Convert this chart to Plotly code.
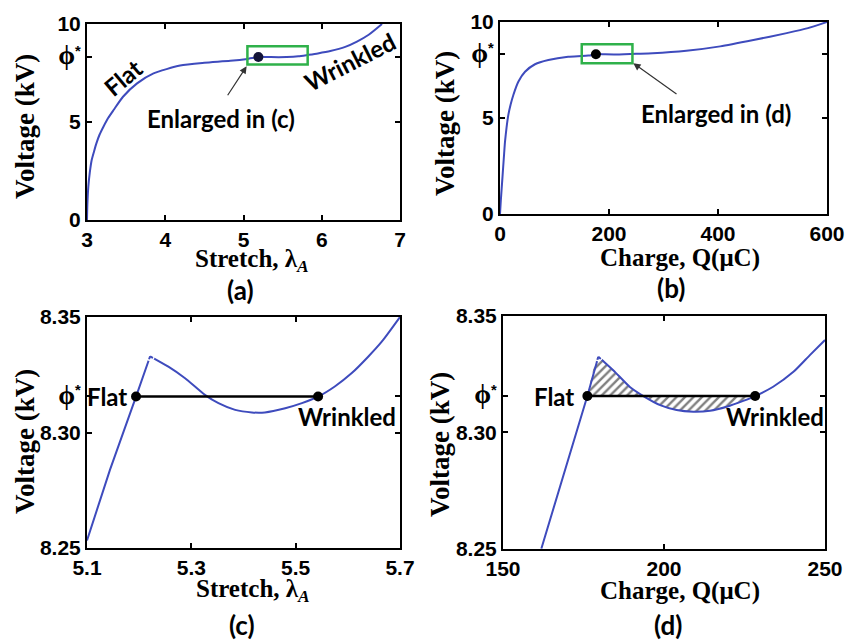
import plotly.graph_objects as go

# ---------------- data ----------------
phi_star = 8.3156

# (a) voltage vs stretch
a_stretch = [3.0, 3.005, 3.017, 3.035, 3.06, 3.09, 3.12, 3.16, 3.21, 3.27, 3.34, 3.46,
             3.64, 3.85, 4.19, 4.5, 4.83, 5.05, 5.19, 5.22, 5.35, 5.45, 5.55, 5.7,
             5.82, 5.95, 6.11, 6.3, 6.45, 6.6, 6.77]
a_voltage = [0.0, 0.8, 1.7, 2.4, 3.06, 3.5, 3.91, 4.35, 4.76, 5.2, 5.61, 6.29,
             6.97, 7.48, 7.88, 8.02, 8.12, 8.22, 8.315, 8.333, 8.312, 8.309, 8.313, 8.35,
             8.42, 8.5, 8.62, 8.83, 9.1, 9.45, 10.0]

# (b) voltage vs charge
b_charge = [0, 1.5, 3.1, 4.6, 6.1, 7.6, 9.2, 12, 15.3, 19.5, 24.5, 33.6, 45.9, 64.2,
            88.7, 125, 150, 162, 176, 180, 193, 209, 228, 250, 280, 342, 404, 465,
            526, 565, 600]
b_voltage = [0.0, 0.7, 1.34, 1.95, 2.55, 3.15, 3.77, 4.5, 5.16, 5.7, 6.2, 6.89, 7.41,
             7.80, 8.02, 8.19, 8.225, 8.25, 8.316, 8.333, 8.316, 8.309, 8.316, 8.34,
             8.37, 8.5, 8.73, 9.06, 9.42, 9.68, 10.0]

# (c) enlarged: voltage vs stretch
c_stretch = [5.1, 5.144, 5.194, 5.221, 5.256, 5.288, 5.326, 5.352, 5.384, 5.416, 5.441,
             5.48, 5.512, 5.543, 5.575, 5.607, 5.639, 5.665, 5.7]
c_voltage = [8.2533, 8.2838, 8.3155, 8.333, 8.3285, 8.3235, 8.3163, 8.3127, 8.3098,
             8.3087, 8.3087, 8.3105, 8.3127, 8.3155, 8.3199, 8.3256, 8.3328, 8.3393, 8.35]
c_flat, c_wrinkled, c_peak = 5.194, 5.543, 3  # peak is the index into c arrays

# (d) enlarged: voltage vs charge
d_charge = [161.9, 176.2, 179.6, 184.3, 189.4, 193.6, 198.8, 203.9, 209.1, 214.3,
            219.5, 224.6, 228.3, 233.9, 240.2, 245.3, 250]
d_voltage = [8.25, 8.3156, 8.3325, 8.3266, 8.3195, 8.3156, 8.3117, 8.3096, 8.3089,
             8.3093, 8.311, 8.3135, 8.3156, 8.3196, 8.326, 8.3332, 8.3397]
d_flat, d_wrinkled, d_peak = 176.2, 228.3, 2
d_hatch_start, d_hatch_end = 1, 12

# tick labels
a_xticks = [3, 4, 5, 6, 7]
a_yticks = [0, 5, phi_star, 10]
b_xticks = [0, 200, 400, 600]
b_yticks = [0, 5, phi_star, 10]
c_xticks = [5.1, 5.3, 5.5, 5.7]
c_yticks = [8.25, 8.30, phi_star, 8.35]
d_xticks = [150, 200, 250]
d_yticks = [8.25, 8.30, phi_star, 8.35]
PHI = '<span style="font-family:Liberation Serif;font-size:27px">ϕ</span><sup>*</sup>'

# ---------------- styling ----------------
W, H = 846, 640
BLUE = "#3e4bbd"
GREEN = "#2fb14a"
TICKFONT = dict(family="Liberation Sans", size=21, color="black", weight="bold")
SERIF = dict(family="Liberation Serif", size=25, color="black", weight="bold")
SERIF_Y = dict(family="Liberation Serif", size=27, color="black", weight="bold")
CAL = dict(family="Lato", size=24, color="black", weight="bold")


def fx(px):
    return px / W


def fy(py):
    return 1 - py / H


def axis(dom, rng, tickvals, ticktext, anchor):
    return dict(domain=dom, range=rng, tickvals=tickvals, ticktext=ticktext,
                showline=True, linecolor="black", linewidth=2, mirror="ticks",
                ticks="inside", ticklen=5, tickwidth=1.5, tickcolor="black",
                showgrid=False, zeroline=False, tickfont=TICKFONT, anchor=anchor,
                automargin=False)


def fmt(v, d):
    return f"{v:.{d}f}"


SPL = dict(shape="spline", smoothing=0.6)

fig = go.Figure()

# (a)
fig.add_trace(go.Scatter(x=a_stretch, y=a_voltage, mode="lines",
                         line=dict(color=BLUE, width=2, **SPL), xaxis="x", yaxis="y"))
fig.add_trace(go.Scatter(x=[a_stretch[18]], y=[a_voltage[18]], mode="markers",
                         marker=dict(color="#141438", size=10), xaxis="x", yaxis="y"))
# (b)
fig.add_trace(go.Scatter(x=b_charge, y=b_voltage, mode="lines",
                         line=dict(color=BLUE, width=2, **SPL), xaxis="x2", yaxis="y2"))
fig.add_trace(go.Scatter(x=[b_charge[18]], y=[b_voltage[18]], mode="markers",
                         marker=dict(color="black", size=10), xaxis="x2", yaxis="y2"))
# (c)
fig.add_trace(go.Scatter(x=c_stretch[:c_peak + 1], y=c_voltage[:c_peak + 1], mode="lines",
                         line=dict(color=BLUE, width=2), xaxis="x3", yaxis="y3"))
fig.add_trace(go.Scatter(x=c_stretch[c_peak:], y=c_voltage[c_peak:], mode="lines",
                         line=dict(color=BLUE, width=2, **SPL), xaxis="x3", yaxis="y3"))
fig.add_trace(go.Scatter(x=[c_stretch[c_peak]], y=[c_voltage[c_peak]], mode="markers",
                         marker=dict(color="white", size=8, symbol="circle-open",
                                     line=dict(color=BLUE, width=1.5)),
                         xaxis="x3", yaxis="y3"))
fig.add_trace(go.Scatter(x=[c_flat, c_wrinkled], y=[phi_star, phi_star],
                         mode="lines+markers", line=dict(color="black", width=2.5),
                         marker=dict(color="black", size=10), xaxis="x3", yaxis="y3"))
# (d)
fig.add_trace(go.Scatter(x=d_charge[d_hatch_start:d_hatch_end + 1],
                         y=d_voltage[d_hatch_start:d_hatch_end + 1],
                         mode="lines", line=dict(width=0, **SPL), fill="toself",
                         fillcolor="rgba(0,0,0,0)",
                         fillpattern=dict(shape="/", size=6, solidity=0.4,
                                          fgcolor="black", bgcolor="white"),
                         xaxis="x4", yaxis="y4"))
fig.add_trace(go.Scatter(x=d_charge[:d_peak + 1], y=d_voltage[:d_peak + 1], mode="lines",
                         line=dict(color=BLUE, width=2), xaxis="x4", yaxis="y4"))
fig.add_trace(go.Scatter(x=d_charge[d_peak:], y=d_voltage[d_peak:], mode="lines",
                         line=dict(color=BLUE, width=2, **SPL), xaxis="x4", yaxis="y4"))
fig.add_trace(go.Scatter(x=[d_charge[d_peak]], y=[d_voltage[d_peak]], mode="markers",
                         marker=dict(color="white", size=8, symbol="circle-open",
                                     line=dict(color=BLUE, width=1.5)),
                         xaxis="x4", yaxis="y4"))
fig.add_trace(go.Scatter(x=[d_flat, d_wrinkled], y=[phi_star, phi_star],
                         mode="lines+markers", line=dict(color="black", width=2.5),
                         marker=dict(color="black", size=10), xaxis="x4", yaxis="y4"))

layout = dict(
    width=W, height=H, autosize=False, showlegend=False,
    margin=dict(l=0, r=0, t=0, b=0),
    paper_bgcolor="white", plot_bgcolor="white",
    xaxis=axis([fx(87), fx(400)], [3, 7], a_xticks, [str(v) for v in a_xticks], "y"),
    yaxis=axis([fy(220), fy(24)], [0, 10], a_yticks, ["0", "5", PHI, "10"], "x"),
    xaxis2=axis([fx(500), fx(827)], [0, 600], b_xticks, [str(v) for v in b_xticks], "y2"),
    yaxis2=axis([fy(214), fy(22)], [0, 10], b_yticks, ["0", "5", PHI, "10"], "x2"),
    xaxis3=axis([fx(87), fx(400)], [5.1, 5.7], c_xticks, [fmt(v, 1) for v in c_xticks], "y3"),
    yaxis3=axis([fy(548), fy(317)], [8.25, 8.35], c_yticks,
                ["8.25", "8.30", PHI, "8.35"], "x3"),
    xaxis4=axis([fx(503), fx(825)], [150, 250], d_xticks, [str(v) for v in d_xticks], "y4"),
    yaxis4=axis([fy(548.7), fy(316)], [8.25, 8.35], d_yticks,
                ["8.25", "8.30", PHI, "8.35"], "x4"),
)
fig.update_layout(**layout)

# green boxes
fig.add_shape(type="rect", xref="x", yref="y", x0=5.05, x1=5.82, y0=7.93, y1=8.86,
              line=dict(color=GREEN, width=2.5))
fig.add_shape(type="rect", xref="x2", yref="y2", x0=150, x1=243, y0=7.85, y1=8.84,
              line=dict(color=GREEN, width=2.5))

ann = []


def paper_text(text, px, py, font, angle=0):
    ann.append(dict(text=text, x=fx(px), y=fy(py), xref="paper", yref="paper",
                    showarrow=False, font=font, textangle=angle,
                    xanchor="center", yanchor="middle"))


# axis titles
for (px, py) in [(25, 127), (445, 124), (25, 442), (440, 445)]:
    paper_text("Voltage (kV)", px, py, SERIF_Y, -90)
paper_text("Stretch, λ<sub><i>A</i></sub>", 252, 260, SERIF)
paper_text("Charge, Q(μC)", 680, 258, SERIF)
paper_text("Stretch, λ<sub><i>A</i></sub>", 253, 590, SERIF)
paper_text("Charge, Q(μC)", 680, 591, SERIF)
# panel labels
for lbl, px, py in [("(a)", 240, 290), ("(b)", 671, 288), ("(c)", 242, 625), ("(d)", 668, 625)]:
    paper_text(lbl, px, py, dict(family="Lato", size=26, color="black", weight="bold"))

# in-plot texts
ann += [
    dict(text="Flat", x=3.46, y=7.25, xref="x", yref="y", showarrow=False, font=CAL,
         textangle=-40),
    dict(text="Wrinkled", x=6.36, y=8.08, xref="x", yref="y", showarrow=False, font=CAL,
         textangle=-27),
    dict(text="Enlarged in (c)", x=4.715, y=5.19, xref="x", yref="y", showarrow=False,
         font=CAL),
    dict(text="", x=5.04, y=7.84, xref="x", yref="y", ax=4.785, ay=6.29, axref="x",
         ayref="y", showarrow=True, arrowhead=2, arrowsize=1.2, arrowwidth=1.2,
         arrowcolor="#333333"),
    dict(text="Enlarged in (d)", x=397, y=5.24, xref="x2", yref="y2", showarrow=False,
         font=CAL),
    dict(text="", x=244.6, y=7.85, xref="x2", yref="y2", ax=326.6, ay=6.2, axref="x2",
         ayref="y2", showarrow=True, arrowhead=2, arrowsize=1.2, arrowwidth=1.2,
         arrowcolor="#333333"),
    dict(text="Flat", x=5.181, y=phi_star, xref="x3", yref="y3", showarrow=False,
         font=CAL, xanchor="right", yanchor="middle"),
    dict(text="Wrinkled", x=5.598, y=8.307, xref="x3", yref="y3", showarrow=False,
         font=CAL, xanchor="center", yanchor="middle"),
    dict(text="Flat", x=172.6, y=phi_star, xref="x4", yref="y4", showarrow=False,
         font=CAL, xanchor="right", yanchor="middle"),
    dict(text="Wrinkled", x=234.6, y=8.3067, xref="x4", yref="y4", showarrow=False,
         font=CAL, xanchor="center", yanchor="middle"),
]
fig.update_layout(annotations=ann)

# remove the browser's default page margin so the 846x640 figure fills the window
fig.write_html("out.html", config={"displayModeBar": False},
               post_script="document.body.style.margin='0px';"
                           "document.body.style.overflow='hidden';")
